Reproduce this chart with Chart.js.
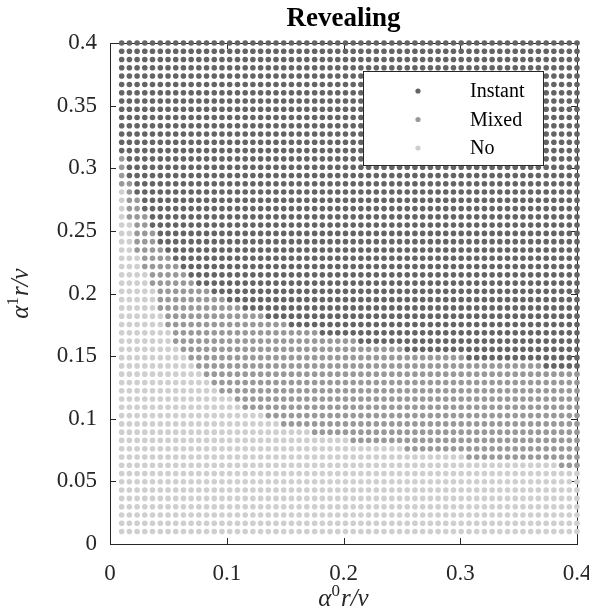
<!DOCTYPE html>
<html>
<head>
<meta charset="utf-8">
<script src="https://cdn.jsdelivr.net/npm/chart.js@4.4.1/dist/chart.umd.min.js"></script>
<style>
    html, body { margin: 0; padding: 0; background: #fff; }
    #wrap { width: 589px; height: 613px; }
</style>
</head>
<body>
<div id="wrap"><canvas id="revealingChart"></canvas></div>
<script>
// sampling grid, used for both axes (60 values from 0.01 to 0.4)
const grid = [
    0.0100, 0.0166, 0.0232, 0.0298, 0.0364, 0.0431, 0.0497, 0.0563, 0.0629, 0.0695,
    0.0761, 0.0827, 0.0893, 0.0959, 0.1025, 0.1092, 0.1158, 0.1224, 0.1290, 0.1356,
    0.1422, 0.1488, 0.1554, 0.1620, 0.1686, 0.1753, 0.1819, 0.1885, 0.1951, 0.2017,
    0.2083, 0.2149, 0.2215, 0.2281, 0.2347, 0.2414, 0.2480, 0.2546, 0.2612, 0.2678,
    0.2744, 0.2810, 0.2876, 0.2942, 0.3008, 0.3075, 0.3141, 0.3207, 0.3273, 0.3339,
    0.3405, 0.3471, 0.3537, 0.3603, 0.3669, 0.3736, 0.3802, 0.3868, 0.3934, 0.4000
];

// per column (x index): highest row index that is "No"
const noTop = [
    41, 37, 33, 31, 29, 26, 24, 22, 21, 20,
    19, 18, 17, 16, 16, 15, 14, 14, 14, 13,
    13, 12, 12, 12, 12, 11, 11, 11, 11, 11,
    10, 10, 10, 10, 10, 10, 10, 9, 9, 9,
    9, 9, 9, 9, 9, 8, 8, 8, 8, 8,
    8, 8, 8, 8, 8, 8, 8, 7, 7, 7
];

// per column (x index): lowest row index that is "Instant"
const instantFrom = [
    46, 43, 41, 39, 37, 35, 34, 33, 32, 31,
    30, 30, 29, 29, 28, 28, 27, 27, 27, 26,
    26, 26, 25, 25, 25, 25, 24, 24, 24, 24,
    24, 23, 23, 23, 23, 23, 23, 22, 22, 22,
    22, 22, 22, 22, 22, 21, 21, 21, 21, 21,
    21, 21, 21, 21, 21, 20, 20, 20, 20, 20
];

const classes = ['Instant', 'Mixed', 'No'];
const classColors = ['#646464', '#999999', '#cfcfcf'];

const xTicks = [0, 0.1, 0.2, 0.3, 0.4];
const yTicks = [0, 0.05, 0.1, 0.15, 0.2, 0.25, 0.3, 0.35, 0.4];

function classify(i, j) {
    if (j <= noTop[i]) return 'No';
    if (j >= instantFrom[i]) return 'Instant';
    return 'Mixed';
}

function pointsFor(kind) {
    const pts = [];
    grid.forEach(function (x, i) {
        grid.forEach(function (y, j) {
            if (classify(i, j) === kind) pts.push({ x: x, y: y });
        });
    });
    return pts;
}

const axisColor = '#262626';
const serif = "'Liberation Serif', 'Times New Roman', serif";

// alpha^k r/v in italic serif, with a real superscript
function drawMathLabel(ctx, digit, cx, cy) {
    const big = 'italic 25px ' + serif;
    const small = '17px ' + serif;
    ctx.font = big;
    const wa = ctx.measureText('α').width;
    const wr = ctx.measureText('r/v').width;
    ctx.font = small;
    const wd = ctx.measureText(digit).width;
    let x = cx - (wa + wd + 1 + wr) / 2;
    ctx.textBaseline = 'alphabetic';
    ctx.textAlign = 'left';
    ctx.font = big;
    ctx.fillText('α', x, cy);
    x += wa;
    ctx.font = small;
    ctx.fillText(digit, x, cy - 10);
    x += wd + 1;
    ctx.font = big;
    ctx.fillText('r/v', x, cy);
}

// box, inward ticks, axis titles and legend, matlab style
const boxPlugin = {
    id: 'boxPlugin',
    beforeDatasetsDraw: function (chart) {
        const ctx = chart.ctx;
        const a = chart.chartArea;
        const xs = chart.scales.x, ys = chart.scales.y;
        const len = 6;
        ctx.save();
        ctx.strokeStyle = axisColor;
        ctx.lineWidth = 1;
        ctx.strokeRect(Math.round(a.left) + 0.5, Math.round(a.top) + 0.5,
            Math.round(a.right - a.left), Math.round(a.bottom - a.top));
        ctx.beginPath();
        xTicks.forEach(function (v) {
            const px = Math.round(xs.getPixelForValue(v)) + 0.5;
            ctx.moveTo(px, a.bottom); ctx.lineTo(px, a.bottom - len);
            ctx.moveTo(px, a.top); ctx.lineTo(px, a.top + len);
        });
        yTicks.forEach(function (v) {
            const py = Math.round(ys.getPixelForValue(v)) + 0.5;
            ctx.moveTo(a.left, py); ctx.lineTo(a.left + len, py);
            ctx.moveTo(a.right, py); ctx.lineTo(a.right - len, py);
        });
        ctx.stroke();
        ctx.restore();
    },
    afterDraw: function (chart) {
        const ctx = chart.ctx;
        const a = chart.chartArea;
        ctx.save();
        ctx.fillStyle = axisColor;
        drawMathLabel(ctx, '0', (a.left + a.right) / 2, 606);
        ctx.save();
        ctx.translate(28, (a.top + a.bottom) / 2);
        ctx.rotate(-Math.PI / 2);
        drawMathLabel(ctx, '1', 0, 0);
        ctx.restore();

        // legend box in the upper right of the plot
        const bx = 363.5, by = 71.5, bw = 180, bh = 94;
        ctx.fillStyle = '#ffffff';
        ctx.fillRect(bx, by, bw, bh);
        ctx.strokeStyle = axisColor;
        ctx.lineWidth = 1;
        ctx.strokeRect(bx, by, bw, bh);
        ctx.font = '20px ' + serif;
        ctx.textBaseline = 'middle';
        ctx.textAlign = 'left';
        chart.data.datasets.forEach(function (ds, k) {
            const cy = 91 + k * 28.5;
            ctx.fillStyle = ds.backgroundColor;
            ctx.beginPath();
            ctx.arc(418, cy, 2.6, 0, Math.PI * 2);
            ctx.fill();
            ctx.fillStyle = '#000000';
            ctx.fillText(ds.label, 470, cy + 1);
        });
        ctx.restore();
    }
};

new Chart(document.getElementById('revealingChart'), {
    type: 'scatter',
    data: {
        datasets: classes.map(function (name, k) {
            return {
                label: name,
                data: pointsFor(name),
                backgroundColor: classColors[k],
                borderWidth: 0,
                pointRadius: 2.8,
                pointHoverRadius: 2.8,
                clip: false
            };
        })
    },
    options: {
        responsive: true,
        maintainAspectRatio: false,
        animation: false,
        events: [],
        layout: { padding: { left: 0, right: 12, top: 0, bottom: 0 } },
        plugins: {
            legend: { display: false },
            tooltip: { enabled: false },
            title: {
                display: true,
                fullSize: false,
                text: 'Revealing',
                color: '#000000',
                font: { family: serif, size: 27, weight: 'bold', lineHeight: 1.2 },
                padding: { top: 3, bottom: 7.6 }
            }
        },
        scales: {
            x: {
                type: 'linear',
                min: 0,
                max: 0.4,
                grid: { display: false, drawTicks: false },
                border: { display: false },
                afterBuildTicks: function (scale) {
                    scale.ticks = xTicks.map(function (v) { return { value: v }; });
                },
                ticks: {
                    color: axisColor,
                    padding: 16,
                    maxRotation: 0,
                    font: { family: serif, size: 23 },
                    callback: function (v) { return String(v); }
                },
                afterFit: function (scale) {
                    scale.height = 69;
                    scale.paddingLeft = 0;
                    scale.paddingRight = 0;
                }
            },
            y: {
                type: 'linear',
                min: 0,
                max: 0.4,
                grid: { display: false, drawTicks: false },
                border: { display: false },
                afterBuildTicks: function (scale) {
                    scale.ticks = yTicks.map(function (v) { return { value: v }; });
                },
                ticks: {
                    color: axisColor,
                    padding: 13,
                    font: { family: serif, size: 23 },
                    callback: function (v) { return String(v); }
                },
                afterFit: function (scale) {
                    scale.width = 110;
                    scale.paddingTop = 0;
                    scale.paddingBottom = 0;
                }
            }
        }
    },
    plugins: [boxPlugin]
});
</script>
</body>
</html>
